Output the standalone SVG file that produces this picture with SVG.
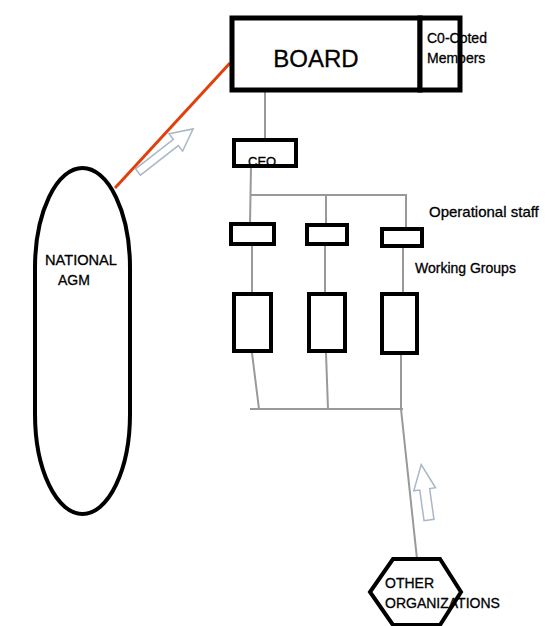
<svg xmlns="http://www.w3.org/2000/svg" width="548" height="626" viewBox="0 0 548 626">
<style>
.box{fill:#fff;stroke:#000;stroke-width:4}
.thick{stroke-width:5}
.conn{stroke:#999;stroke-width:2;fill:none}
.hollow{fill:#fff;stroke:#a9b7c6;stroke-width:1.5}
text{font-family:"Liberation Sans",Arial,sans-serif;fill:#000;stroke:#000;stroke-width:0.3}
</style>
<rect width="548" height="626" fill="#fff"/>
<g id="connectors">
<line x1="115" y1="188" x2="230" y2="63" stroke="#e0400c" stroke-width="3"/>
<polygon class="hollow" transform="translate(138,172) rotate(-38)" points="0,-4 48,-4 48,-11 70,0 48,11 48,4 0,4"/>
<path class="conn" d="M265,92V140M251,166L250,224M250,195H407M326,195V225M406,195V229M252,246V294M325,246V294M403,248V294M252,353L259,409M326,353L328,409M401,355V409M250,409H403M401,409L417,559"/>
<polygon class="hollow" transform="translate(429,520) rotate(-98)" points="0,-5 31,-5 31,-11 56,0 31,11 31,5 0,5"/>
</g>
<g id="board">
<rect class="box thick" x="232" y="18" width="188" height="72"/>
<text x="316" y="67" font-size="24" text-anchor="middle">BOARD</text>
</g>
<g id="coopted">
<rect class="box thick" x="420" y="18" width="40" height="72"/>
<text x="427" y="43" font-size="14">C0-Coted</text>
<text x="427" y="63" font-size="14">Members</text>
</g>
<g id="ceo">
<rect class="box" x="234" y="140" width="62" height="26"/>
<text x="248" y="166" font-size="13">CEO</text>
</g>
<g id="ops1"><rect class="box" x="231" y="224" width="43" height="20"/></g>
<g id="ops2"><rect class="box" x="307" y="225" width="40" height="19"/></g>
<g id="ops3"><rect class="box" x="382" y="229" width="40" height="17"/></g>
<g id="ops-label"><text x="429" y="217" font-size="15">Operational staff</text></g>
<g id="wg-label"><text x="415" y="273" font-size="14">Working Groups</text></g>
<g id="wg1"><rect class="box" x="234" y="294" width="37" height="57"/></g>
<g id="wg2"><rect class="box" x="309" y="294" width="36" height="57"/></g>
<g id="wg3"><rect class="box" x="382" y="294" width="35" height="59"/></g>
<g id="agm">
<rect class="box" x="35" y="168" width="95" height="346" rx="47.5" ry="100"/>
<text x="45" y="265" font-size="14" textLength="72" lengthAdjust="spacingAndGlyphs">NATIONAL</text>
<text x="58" y="285" font-size="14">AGM</text>
</g>
<g id="other">
<polygon class="box" points="393,559 440,559 461,592 440,625 393,625 370,592"/>
<text x="385" y="588" font-size="14">OTHER</text>
<text x="385" y="608" font-size="14">ORGANIZATIONS</text>
</g>
</svg>
